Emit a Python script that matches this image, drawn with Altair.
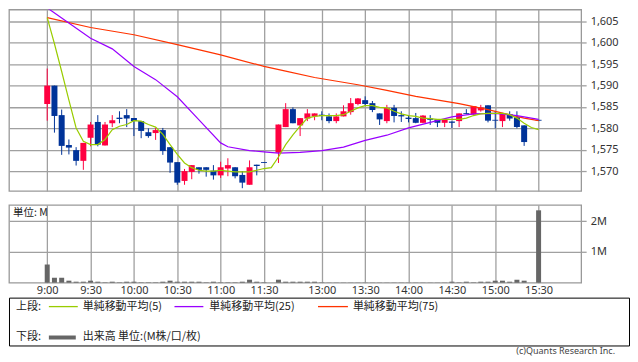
import json
import pandas as pd
import altair as alt

# ---------------- data (5-minute bars; slot 0 = 9:00, slot 32 = 12:30, slot 68 = 15:30) -------------
slots = list(range(0, 31)) + list(range(32, 67)) + [68]
opens = [1585.7, 1590.0, 1583.1, 1576.1, 1574.9, 1572.4, 1577.8, 1581.5, 1576.0, 1581.2,
         1582.5, 1583.1, 1582.4, 1581.7, 1579.1, 1578.9, 1579.6, 1575.6, 1572.1, 1567.7,
         1569.8, 1570.9, 1570.9, 1570.1, 1569.0, 1570.6, 1570.9, 1569.1, 1566.8, 1571.5,
         1572.1,
         1574.3, 1580.3, 1584.5, 1580.7, 1582.3, 1582.8, 1583.2, 1582.8, 1581.7, 1582.8,
         1583.8, 1585.7, 1586.6, 1585.9, 1583.5, 1581.7, 1584.8, 1583.1, 1582.5, 1582.4,
         1581.3, 1582.3, 1582.1, 1581.3, 1581.6, 1581.7, 1583.6, 1583.2, 1584.2, 1585.4,
         1582.0, 1581.7, 1583.3, 1582.6, 1580.7,
         1582.0]
highs = [1594.0, 1590.0, 1584.4, 1577.4, 1575.6, 1576.6, 1581.5, 1583.1, 1581.5, 1583.1,
         1584.0, 1584.5, 1582.4, 1581.7, 1580.0, 1580.1, 1580.1, 1575.6, 1572.1, 1570.5,
         1571.4, 1570.9, 1570.9, 1571.4, 1572.2, 1573.0, 1570.9, 1570.0, 1572.5, 1571.5,
         1572.1,
         1580.9, 1585.9, 1584.9, 1582.4, 1584.5, 1583.5, 1584.0, 1583.5, 1583.5, 1585.4,
         1587.1, 1587.1, 1587.5, 1586.4, 1583.5, 1585.5, 1585.5, 1584.0, 1583.1, 1583.6,
         1583.1, 1583.1, 1582.1, 1582.1, 1581.6, 1583.5, 1584.5, 1585.2, 1585.5, 1585.4,
         1584.1, 1583.6, 1584.0, 1584.0, 1580.7,
         1582.0]
lows = [1581.8, 1579.0, 1573.8, 1573.9, 1571.3, 1570.3, 1575.8, 1575.8, 1576.0, 1580.3,
        1581.2, 1580.3, 1578.2, 1577.7, 1577.8, 1577.3, 1573.8, 1569.6, 1566.8, 1566.8,
        1568.1, 1569.4, 1568.7, 1568.0, 1568.4, 1568.8, 1568.3, 1566.0, 1566.8, 1569.0,
        1571.9,
        1571.9, 1580.3, 1581.2, 1578.2, 1581.7, 1581.9, 1581.9, 1581.2, 1581.2, 1582.8,
        1583.2, 1585.4, 1585.3, 1583.8, 1580.8, 1581.2, 1581.4, 1581.5, 1581.4, 1581.2,
        1581.2, 1580.8, 1580.3, 1580.3, 1580.1, 1580.3, 1583.3, 1583.2, 1583.9, 1581.4,
        1580.0, 1580.3, 1581.8, 1580.0, 1575.9,
        1581.8]
closes = [1590.0, 1582.9, 1575.9, 1575.5, 1572.4, 1576.6, 1580.9, 1576.2, 1580.9, 1581.9,
          1582.2, 1582.3, 1581.7, 1579.4, 1578.2, 1579.6, 1574.7, 1572.0, 1567.3, 1570.0,
          1571.4, 1570.3, 1570.3, 1569.0, 1570.9, 1571.4, 1568.8, 1567.3, 1570.9, 1571.2,
          1571.9,
          1580.9, 1584.5, 1581.2, 1582.4, 1583.5, 1583.5, 1582.9, 1581.7, 1582.8, 1584.0,
          1585.9, 1587.0, 1585.7, 1584.3, 1582.1, 1584.8, 1582.9, 1582.8, 1582.2, 1581.3,
          1583.0, 1582.0, 1581.3, 1582.1, 1581.3, 1583.5, 1583.4, 1585.2, 1584.9, 1581.8,
          1581.8, 1583.5, 1582.3, 1580.3, 1576.8,
          1581.8]
volumes_m = [0.59, 0.16, 0.16, 0.065, 0.032, 0.032, 0.065, 0.032, 0.012, 0.032,
             0.012, 0.032, 0.032, 0.012, 0.012, 0.012, 0.032, 0.065, 0.032, 0.032,
             0.032, 0.032, 0.012, 0.032, 0.012, 0.012, 0.012, 0.032, 0.097, 0.032,
             0.012,
             0.097, 0.032, 0.032, 0.032, 0.032, 0.032, 0.012, 0.006, 0.006, 0.006,
             0.006, 0.006, 0.006, 0.006, 0.006, 0.006, 0.006, 0.006, 0.006, 0.006,
             0.006, 0.006, 0.006, 0.006, 0.032, 0.012, 0.032, 0.012, 0.032, 0.032,
             0.065, 0.065, 0.032, 0.097, 0.065,
             2.35]

ma5_slots = list(range(0, 69))
ma5_vals = [1605.9, 1599.8, 1593.3, 1586.6, 1580.1, 1577.0, 1576.2, 1576.2, 1577.4, 1579.7,
            1580.5, 1580.9, 1581.8, 1581.7, 1580.9, 1580.3, 1578.6, 1576.2, 1573.9, 1571.9,
            1570.8, 1570.2, 1570.0, 1570.0, 1570.2, 1570.0, 1569.8, 1569.8, 1569.8, 1570.2,
            1570.6, 1570.8, 1573.3, 1576.2, 1578.5, 1580.5, 1582.4, 1582.8, 1583.0, 1583.0,
            1583.0, 1583.2, 1584.0, 1584.8, 1585.3, 1585.3, 1584.9, 1584.8, 1584.0, 1583.4,
            1583.0, 1582.8, 1582.4, 1582.3, 1582.1, 1582.1, 1582.1, 1582.1, 1582.4, 1583.0,
            1583.4, 1583.5, 1583.5, 1583.5, 1583.2, 1582.4, 1581.2, 1580.2, 1579.7]
ma25_slots = [0, 2, 6, 9, 12, 15, 18, 21, 24, 25, 28, 30, 32, 35, 38, 41, 44, 47, 50, 53, 56, 59, 62, 65, 68]
ma25_vals = [1608.2, 1605.8, 1601.1, 1598.6, 1594.5, 1591.4, 1587.4, 1582.0, 1576.6, 1575.7,
             1574.8, 1574.5, 1574.2, 1574.4, 1574.8, 1575.6, 1577.2, 1578.4, 1580.1, 1581.4,
             1582.7, 1583.4, 1583.5, 1583.0, 1582.1]
ma75_slots = [0, 6, 12, 18, 24, 30, 33, 37, 43, 47, 51, 57, 61, 66, 68]
ma75_vals = [1605.9, 1603.6, 1601.9, 1599.6, 1597.2, 1594.5, 1593.4, 1591.9, 1590.2, 1588.9,
             1587.5, 1585.8, 1584.4, 1582.4, 1581.8]

tick_slots = [0, 6, 12, 18, 24, 30, 38, 44, 50, 56, 62, 68]
tick_labels = ["9:00", "9:30", "10:00", "10:30", "11:00", "11:30",
               "13:00", "13:30", "14:00", "14:30", "15:00", "15:30"]
price_ticks = [1570, 1575, 1580, 1585, 1590, 1595, 1600, 1605]
volume_ticks = [1, 2]

legend_head = ["上段:", "下段:"]
legend_ma_labels = ["単純移動平均(5)", "単純移動平均(25)", "単純移動平均(75)"]
legend_volume_label = "出来高 単位:(M株/口/枚)"
unit_label = "単位: M"
copyright_text = "(c)Quants Research Inc."

# ---------------- styling ----------------
RED, BLUE = "#FF0040", "#003399"
MA_COLORS = ["#99CC00", "#9900FF", "#FF3300"]
VOL_COLOR = "#666666"
GRID = "#a0a0a0"
LATIN = "Noto Sans"
JP = "Noto Sans CJK JP"

PW = 574          # plot width
TOP_H = 182
VOL_H = 78

df = pd.DataFrame({"slot": slots, "open": opens, "high": highs, "low": lows,
                   "close": closes, "vol": volumes_m})
df["dir"] = ["up" if c > o else "down" for o, c in zip(opens, closes)]
ma5_df = pd.DataFrame({"slot": ma5_slots, "v": ma5_vals})
ma25_df = pd.DataFrame({"slot": ma25_slots, "v": ma25_vals})
ma75_df = pd.DataFrame({"slot": ma75_slots, "v": ma75_vals})
one = pd.DataFrame({"k": [0]})

xscale = alt.Scale(domain=[-4.6, 73.2], nice=False, zero=False)
label_expr = "%s[indexof(%s, datum.value)]" % (json.dumps(tick_labels), json.dumps(tick_slots))

x_top_axis = alt.Axis(values=tick_slots, labels=False, ticks=False, domain=False,
                      grid=True, title=None)
yscale = alt.Scale(domain=[1565.35, 1607.8], nice=False, zero=False)
y_top_axis = alt.Axis(orient="right", values=price_ticks, format=",", grid=True,
                      domain=False, tickSize=5, labelPadding=4, title=None)

color = alt.Color("dir:N", scale=alt.Scale(domain=["up", "down"], range=[RED, BLUE]), legend=None)

base = alt.Chart(df)
wicks = base.mark_rule(strokeWidth=1).encode(
    x=alt.X("slot:Q", scale=xscale, axis=x_top_axis),
    y=alt.Y("low:Q", scale=yscale, axis=y_top_axis),
    y2="high:Q",
    color=color,
)
bodies = base.mark_bar(size=6).encode(
    x=alt.X("slot:Q", scale=xscale, axis=x_top_axis),
    y=alt.Y("open:Q", scale=yscale, axis=y_top_axis),
    y2="close:Q",
    color=color,
)


def ma_line(d, col):
    return alt.Chart(d).mark_line(color=col, strokeWidth=1.2, clip=True).encode(
        x=alt.X("slot:Q", scale=xscale, axis=x_top_axis),
        y=alt.Y("v:Q", scale=yscale, axis=y_top_axis),
    )


top = alt.layer(
    wicks, bodies,
    ma_line(ma75_df, MA_COLORS[2]),
    ma_line(ma25_df, MA_COLORS[1]),
    ma_line(ma5_df, MA_COLORS[0]),
).properties(width=PW, height=TOP_H)

# ---------------- volume panel ----------------
x_vol_axis = alt.Axis(values=tick_slots, labelExpr=label_expr, ticks=False, domain=False,
                      grid=True, title=None, labelPadding=2, labelFlush=False,
                      labelOverlap=False)
vscale = alt.Scale(domain=[0, 2.525], nice=False, zero=True)
y_vol_axis = alt.Axis(orient="right", values=volume_ticks, labelExpr="datum.value + 'M'",
                      grid=True, domain=False, tickSize=5, labelPadding=4, title=None)

vol_bars = base.mark_bar(size=5, color=VOL_COLOR).encode(
    x=alt.X("slot:Q", scale=xscale, axis=x_vol_axis),
    y=alt.Y("vol:Q", scale=vscale, axis=y_vol_axis),
)
unit_txt = alt.Chart(one).mark_text(text=unit_label, align="left", baseline="middle",
                                    font=JP, fontSize=10.5, color="#222").encode(
    x=alt.value(4), y=alt.value(8))
vol = alt.layer(vol_bars, unit_txt).properties(width=PW, height=VOL_H)

# ---------------- legend panel ----------------
LW, LH = 622, 48
row_y = [9, 40]
leg_layers = []
for i, h in enumerate(legend_head):
    leg_layers.append(alt.Chart(one).mark_text(text=h, align="left", baseline="middle",
                                               font=JP, fontSize=11, color="#222").encode(
        x=alt.value(7), y=alt.value(row_y[i])))
seg_x = [(40, 69), (166, 195), (310, 340)]
txt_x = [74, 201, 345]
for (a, b), tx, lab, col in zip(seg_x, txt_x, legend_ma_labels, MA_COLORS):
    leg_layers.append(alt.Chart(one).mark_rule(color=col, strokeWidth=1.3).encode(
        x=alt.value(a), x2=alt.value(b), y=alt.value(row_y[0])))
    leg_layers.append(alt.Chart(one).mark_text(text=lab, align="left", baseline="middle",
                                               font=JP, fontSize=11, color="#222").encode(
        x=alt.value(tx), y=alt.value(row_y[0])))
leg_layers.append(alt.Chart(one).mark_rule(color=VOL_COLOR, strokeWidth=4).encode(
    x=alt.value(40), x2=alt.value(67), y=alt.value(row_y[1])))
leg_layers.append(alt.Chart(one).mark_text(text=legend_volume_label, align="left",
                                           baseline="middle", font=JP, fontSize=11,
                                           color="#222").encode(
    x=alt.value(74), y=alt.value(row_y[1])))
leg_layers.append(alt.Chart(one).mark_text(text=copyright_text, align="right",
                                           baseline="middle", font=LATIN, fontSize=9,
                                           color="#444").encode(
    x=alt.value(608), y=alt.value(LH + 6)))

legend = alt.layer(*leg_layers).properties(
    width=LW, height=LH, view=alt.ViewBackground(stroke="black", strokeWidth=1))

chart = alt.vconcat(top, alt.vconcat(vol, legend, spacing=0), spacing=12).properties(
    padding=0, background="white"
).configure_view(stroke="#999999", strokeWidth=1.3).configure_axis(
    labelFont=LATIN, labelFontSize=11, labelColor="#333333",
    gridColor=GRID, gridWidth=1.3, tickColor=GRID, tickWidth=1.3,
)

chart.save("out.html", embed_options={"renderer": "svg", "actions": False})
